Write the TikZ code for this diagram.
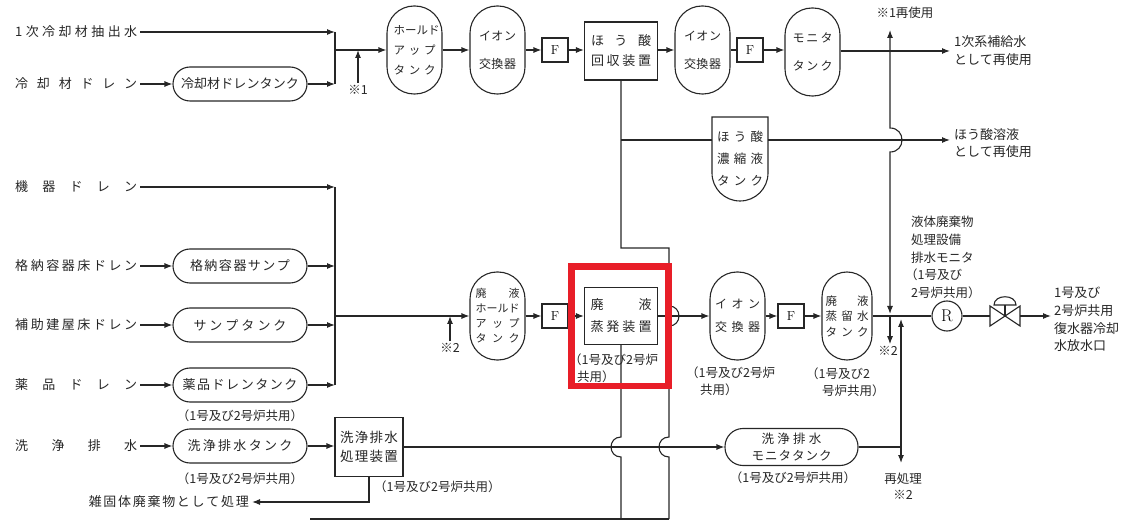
\documentclass[tikz,border=0pt]{standalone}
\usepackage{fontspec}
\newfontfamily\cjk{Noto Sans CJK JP}
\usetikzlibrary{arrows.meta}
\newcommand\jspread[2]{\makebox[#1][s]{\jsprA#2\relax}}
\def\jsprA#1{#1\jsprB}
\def\jsprB#1{\ifx#1\relax\else\hfil#1\expandafter\jsprB\fi}
\definecolor{hlred}{RGB}{232,30,40}
\begin{document}
\begin{tikzpicture}[x=1pt,y=-1pt,
  ln/.style={line width=1.1pt, draw=black!85},
  arr/.style={ln, -{Latex[length=8pt,width=6pt]}},
  dbl/.style={ln, {Latex[length=8pt,width=6pt]}-{Latex[length=8pt,width=6pt]}},
  tankv/.style={draw=black!85, line width=1.1pt, rounded corners=27pt, minimum width=55pt, minimum height=88pt, inner sep=0pt, align=center, text=black!85},
  tankh/.style={draw=black!85, line width=1.1pt, rounded corners=17pt, minimum width=134pt, minimum height=34pt, inner sep=0pt, text=black!85, font=\cjk\fontsize{13}{16}\selectfont},
  fbx/.style={draw=black!85, line width=1.1pt, minimum width=26pt, minimum height=24pt, inner sep=0pt, font=\fontsize{13}{13}\selectfont},
  proc/.style={draw=black!85, line width=1.1pt, inner sep=0pt, align=center, text=black!85},
  src/.style={anchor=west, inner sep=3pt, text=black!85, font=\cjk\fontsize{13}{16}\selectfont},
  lbl/.style={inner sep=2pt, text=black!85, font=\cjk\fontsize{12.5}{17}\selectfont, align=left},
]
\useasboundingbox (0,0) rectangle (1141,521);

% ---------- top row ----------
\node[src] (s1) at (12,32) {\jspread{122pt}{1次冷却材抽出水}};
\node[src] (s2) at (12,84) {\jspread{122pt}{冷却材ドレン}};
\node[tankh] (tk1) at (240,84) {\jspread{118pt}{冷却材ドレンタンク}};
\coordinate (cA) at (335,32);
\coordinate (cB) at (335,84);
\coordinate (j1) at (335,50);
\node[tankv, font=\cjk\fontsize{11.5}{20}\selectfont] (hut1) at (414.5,50) {\jspread{42pt}{ホールド}\\\jspread{42pt}{アップ}\\\jspread{42pt}{タンク}};
\node[lbl] (n1) at (358,90) {※1};
\node[tankv, font=\cjk\fontsize{12}{28}\selectfont] (ix1) at (497.5,50) {\jspread{37pt}{イオン}\\\jspread{37pt}{交換器}};
\node[fbx] (f1) at (555,50) {F};
\node[proc, minimum width=73pt, minimum height=58pt, font=\cjk\fontsize{13}{20}\selectfont] (br) at (621,51) {\jspread{60pt}{ほう酸}\\\jspread{60pt}{回収装置}};
\node[tankv, font=\cjk\fontsize{12}{28}\selectfont] (ix2) at (702.5,50) {\jspread{37pt}{イオン}\\\jspread{37pt}{交換器}};
\node[fbx] (f2) at (750,50) {F};
\node[tankv, font=\cjk\fontsize{12}{28}\selectfont] (mt) at (812.5,52) {\jspread{40pt}{モニタ}\\\jspread{40pt}{タンク}};
\node[lbl, anchor=west, inner sep=4pt, font=\cjk\fontsize{13}{18}\selectfont] (o1) at (950,51) {1次系補給水\\として再使用};
\node[lbl, font=\cjk\fontsize{12.5}{16}\selectfont] (r1) at (905,13) {※1再使用};
\coordinate (t1) at (890,30);

\node[inner sep=0pt, minimum width=56pt, minimum height=84pt, align=center, text=black!85, font=\cjk\fontsize{12.5}{22}\selectfont] (bt) at (740,159) {\jspread{46pt}{ほう酸}\\\jspread{46pt}{濃縮液}\\\jspread{46pt}{タンク}};
\draw[ln] (712,117) -- (768,117) -- (768,173) .. controls (768,188.5) and (755.5,201) .. (740,201) .. controls (724.5,201) and (712,188.5) .. (712,173) -- cycle;
\coordinate (j2) at (621,140);
\node[lbl, anchor=west, inner sep=4pt, font=\cjk\fontsize{13}{17}\selectfont] (o2) at (950,143.5) {ほう酸溶液\\として再使用};

\draw[arr] (s1) -- (cA);
\draw[arr] (s2) -- (tk1);
\draw[arr] (tk1) -- (cB);
\draw[ln] (cA) -- (cB);
\draw[arr] (j1) -- (hut1);
\draw[arr] (n1) -- (n1 |- j1);
\draw[arr] (hut1) -- (ix1);
\draw[arr] (ix1) -- (f1);
\draw[arr] (f1) -- (br.west |- f1);
\draw[arr] (br.east |- f1) -- (ix2);
\draw[ln] (ix2) -- (f2);
\draw[arr] (f2) -- (f2 -| mt.west);
\draw[arr] (mt.east |- o1) -- (o1);

\coordinate (k1) at (621,248);
\coordinate (k2) at (669,248);
\coordinate (k3) at (669,519);
\coordinate (k5) at (310,519);
\draw[ln] (br.south) -- (k1) -- (k2) -- (669,306) .. controls (682.3,306) and (682.3,326) .. (669,326) -- (669,437) .. controls (655.7,437) and (655.7,457) .. (669,457) -- (k3);
\draw[ln] (j2) -- (bt.west |- j2);
\draw[arr] (bt.east |- j2) -- (o2.west |- j2);

\coordinate (t2) at (890,314);
\coordinate (t3) at (890,317);
\draw[dbl] (t1) -- (890,128) .. controls (906,128) and (906,152) .. (890,152) -- (t2);
\node[lbl] (n3) at (888,351) {※2};
\draw[arr] (t3) -- (n3.north -| t3);

% ---------- middle ----------
\node[src] (s3) at (12,187) {\jspread{122pt}{機器ドレン}};
\node[src] (s4) at (12,266) {\jspread{122pt}{格納容器床ドレン}};
\node[tankh] (tk2) at (240,266) {\jspread{100pt}{格納容器サンプ}};
\node[src] (s5) at (12,325) {\jspread{122pt}{補助建屋床ドレン}};
\node[tankh] (tk3) at (240,325) {\jspread{93pt}{サンプタンク}};
\node[src] (s6) at (12,385) {\jspread{122pt}{薬品ドレン}};
\node[tankh] (tk4) at (240,385) {\jspread{115pt}{薬品ドレンタンク}};
\node[lbl] (l4) at (240,416) {（1号及び2号炉共用）};
\coordinate (c3) at (335,187);
\coordinate (c4) at (335,266);
\coordinate (c5) at (335,325);
\coordinate (c6) at (335,385);
\coordinate (j3) at (335,316);
\draw[arr] (s3) -- (c3);
\draw[arr] (s4) -- (tk2);
\draw[arr] (tk2) -- (c4);
\draw[arr] (s5) -- (tk3);
\draw[arr] (tk3) -- (c5);
\draw[arr] (s6) -- (tk4);
\draw[arr] (tk4) -- (c6);
\draw[ln] (c3) -- (c6);

\node[tankv, font=\cjk\fontsize{11}{15}\selectfont] (hut2) at (497.5,316) {\jspread{44pt}{廃液}\\\jspread{44pt}{ホールド}\\\jspread{44pt}{アップ}\\\jspread{44pt}{タンク}};
\draw[arr] (j3) -- (hut2);
\node[lbl] (n2) at (450,348) {※2};
\draw[arr] (n2) -- (n2 |- j3);
\node[fbx] (f3) at (555,316) {F};
\node[proc, minimum width=73pt, minimum height=57pt, font=\cjk\fontsize{13}{22}\selectfont] (ev) at (621,316) {\jspread{61pt}{廃液}\\\jspread{61pt}{蒸発装置}};
\node[lbl, anchor=west, inner sep=0pt] (lev) at (569,368.5) {（1号及び2号炉\\\hspace*{8pt}共用）};
\node[tankv, font=\cjk\fontsize{12}{23}\selectfont] (ix3) at (737.5,316) {\jspread{45pt}{イオン}\\\jspread{45pt}{交換器}};
\node[lbl, anchor=west, inner sep=0pt] (lix) at (686,381.5) {（1号及び2号炉\\\hspace*{14pt}共用）};
\node[fbx] (f4) at (791,316) {F};
\node[tankv, minimum width=50pt, rounded corners=25pt, font=\cjk\fontsize{11.5}{15.5}\selectfont] (dt) at (847,316) {\jspread{43pt}{廃液}\\\jspread{43pt}{蒸留水}\\\jspread{43pt}{タンク}};
\node[lbl, anchor=west, inner sep=0pt] (ldt) at (806,382.5) {（1号及び2\\\hspace*{16pt}号炉共用）};

\draw[arr] (hut2) -- (f3);
\draw[arr] (f3) -- (ev);
\draw[arr] (ev) -- (ix3);
\draw[arr] (ix3) -- (f4);
\draw[arr] (f4) -- (dt);

\node[draw=black!85, line width=1.1pt, circle, minimum size=30pt, inner sep=0pt, font=\fontsize{17}{17}\selectfont] (R) at (947,316) {R};
\node[minimum width=30pt, minimum height=20pt, inner sep=0pt] (vl) at (1005,316) {};
\draw[ln] (dt) -- (R);
\draw[ln] (R) -- (vl.west);
\draw[ln, fill=white] (990,306) -- (1020,326) -- (1020,306) -- (990,326) -- cycle;
\draw[ln] (vl.center) -- (1005,305);
\draw[ln] (994,305) .. controls (994,294) and (1016,294) .. (1016,305) -- cycle;
\node[lbl, anchor=west, inner sep=3pt, font=\cjk\fontsize{13}{17.7}\selectfont] (o3) at (1051,319.5) {1号及び\\2号炉共用\\復水器冷却\\水放水口};
\draw[arr] (vl.east) -- (vl.east -| o3.west);
\node[lbl, anchor=west, inner sep=0pt, font=\cjk\fontsize{12.5}{17.7}\selectfont] (mon) at (911,257.5) {液体廃棄物\\処理設備\\排水モニタ\\\hspace*{-6pt}（1号及び\\2号炉共用）};

\coordinate (u1) at (901,319);
\coordinate (u2) at (901,463);
\coordinate (u3) at (901,447);
\draw[dbl] (u1) -- (u2);
\node[lbl, align=center, font=\cjk\fontsize{12.5}{16}\selectfont] (rp) at (903,486) {再処理\\※2};

% ---------- bottom ----------
\node[src] (s7) at (12,446) {\jspread{122pt}{洗浄排水}};
\node[tankh] (tk5) at (240,446) {\jspread{105pt}{洗浄排水タンク}};
\node[lbl] (l5) at (240,479) {（1号及び2号炉共用）};
\node[proc, minimum width=68pt, minimum height=59pt, font=\cjk\fontsize{13.5}{19}\selectfont] (wb) at (369,447) {\jspread{58pt}{洗浄排水}\\\jspread{58pt}{処理装置}};
\node[lbl, anchor=west, inner sep=0pt] (lwb) at (374,487) {（1号及び2号炉共用）};
\node[lbl, anchor=east, inner sep=3pt, font=\cjk\fontsize{13}{16}\selectfont] (sw) at (252,502) {\jspread{160pt}{雑固体廃棄物として処理}};
\node[tankh, minimum width=133pt, minimum height=37pt, rounded corners=18pt, font=\cjk\fontsize{12.5}{17}\selectfont, align=center] (wm) at (791.5,447) {\jspread{60pt}{洗浄排水}\\\jspread{80pt}{モニタタンク}};
\node[lbl] (lwm) at (793,478) {（1号及び2号炉共用）};

\draw[arr] (s7) -- (tk5);
\draw[arr] (tk5) -- (tk5 -| wb.west);
\draw[arr] (wb.south) |- (sw.east);
\draw[arr] (wb) -- (wm);
\draw[ln] (wm) -- (u3);
\draw[ln] (ev.south) -- (621,437) .. controls (607.7,437) and (607.7,457) .. (621,457) -- (621,519);
\draw[ln] (k5) -- (k3);

% highlight frame
\node[draw=hlred, line width=6.7pt, minimum width=97pt, minimum height=119.5pt, inner sep=0pt] (hl) at (620,326.25) {};
\end{tikzpicture}
\end{document}
